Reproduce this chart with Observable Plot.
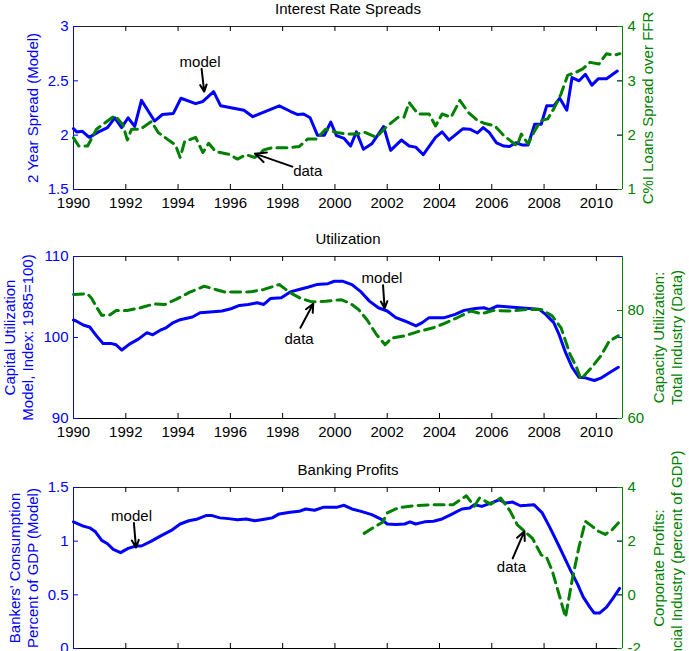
<!DOCTYPE html>
<html><head><meta charset="utf-8">
<script src="https://cdn.jsdelivr.net/npm/d3@7"></script>
<script src="https://cdn.jsdelivr.net/npm/@observablehq/plot@0.6"></script>
<style>
html,body{margin:0;padding:0;background:#fff;overflow:hidden}
#fig{position:relative;width:689px;height:651px;overflow:hidden;background:#fff}
#fig svg{position:absolute;left:0;overflow:visible;background:transparent}
</style></head><body><div id="fig"></div>
<script>
// ---------- shared ----------
const xTicks = [1990,1992,1994,1996,1998,2000,2002,2004,2006,2008,2010];
const xDomain = [1990, 2011];

// ---------- Panel 1: Interest Rate Spreads ----------
const p1Title = "Interest Rate Spreads";
const p1LeftLabel = "2 Year Spread (Model)";
const p1RightLabel = "C%I Loans Spread over FFR";
const p1LeftDomain = [1.5, 3];
const p1LeftTicks = [1.5, 2, 2.5, 3];
const p1RightDomain = [1, 4];
const p1RightTicks = [1, 2, 3, 4];
const p1ModelX = [1990.0,1990.12,1990.34,1990.6,1990.96,1991.3,1991.58,1991.84,1992.09,1992.34,1992.6,1993.1,1993.4,1993.82,1994.11,1994.67,1994.95,1995.36,1995.63,1996.52,1996.86,1997.87,1998.29,1998.58,1998.8,1999.05,1999.33,1999.6,1999.84,2000.06,2000.35,2000.6,2000.82,2001.09,2001.41,2001.86,2002.13,2002.54,2002.84,2003.09,2003.38,2003.85,2004.1,2004.36,2004.9,2005.16,2005.45,2005.67,2005.9,2006.18,2006.46,2006.68,2006.92,2007.15,2007.39,2007.64,2007.89,2008.1,2008.37,2008.6,2008.87,2009.07,2009.34,2009.58,2009.83,2010.08,2010.39,2010.8];
const p1ModelY = [2.06,2.03,2.035,1.98,2.03,2.07,2.16,2.07,2.16,2.08,2.32,2.13,2.19,2.20,2.34,2.29,2.31,2.40,2.27,2.23,2.17,2.27,2.22,2.19,2.195,2.16,2.00,2.00,2.12,1.995,1.97,1.90,2.03,1.87,1.92,2.08,1.86,1.955,1.90,1.89,1.82,1.98,2.03,1.955,2.06,2.055,2.02,2.07,2.025,1.93,1.90,1.895,1.93,1.91,1.91,2.10,2.10,2.27,2.27,2.34,2.23,2.53,2.50,2.56,2.46,2.52,2.52,2.59];
const p1DataX = [1990.0,1990.2,1990.54,1990.88,1991.58,1991.89,1992.06,1992.22,1992.56,1992.98,1993.24,1993.66,1993.9,1994.08,1994.25,1994.67,1994.95,1995.17,1995.43,1995.93,1996.27,1996.6,1996.94,1997.28,1997.6,1998.29,1998.63,1998.96,1999.3,1999.64,2000.06,2000.48,2000.82,2001.15,2001.58,2002.0,2002.42,2002.64,2002.84,2003.18,2003.6,2003.85,2004.1,2004.44,2004.78,2005.1,2005.45,2005.7,2006.12,2006.46,2006.71,2006.97,2007.13,2007.39,2007.64,2007.89,2008.14,2008.4,2008.65,2008.9,2009.23,2009.48,2009.76,2010.1,2010.39,2010.67,2010.9];
const p1DataY = [1.95,1.80,1.80,2.11,2.36,2.19,1.91,2.11,2.11,2.25,2.05,1.90,1.82,1.59,1.88,1.96,1.68,1.85,1.70,1.65,1.56,1.64,1.59,1.73,1.77,1.77,1.79,1.93,1.93,2.11,2.05,2.02,2.02,2.05,1.96,2.17,2.33,2.33,2.60,2.39,2.39,2.17,2.39,2.33,2.64,2.42,2.27,2.22,2.17,1.99,1.90,1.80,2.02,1.84,2.08,2.27,2.30,2.51,2.76,3.10,3.16,3.22,3.34,3.31,3.50,3.47,3.50];
// annotations (left-axis units): [textX, textY, tailX, tailY, tipX, tipY]
const p1ModelNote = [1994.84, 2.67, 1994.9, 2.61, 1995.0, 2.40];
const p1DataNote = [1998.96, 1.67, 1998.37, 1.71, 1996.94, 1.83];

// ---------- Panel 2: Utilization ----------
const p2Title = "Utilization";
const p2LeftLabel = "Capital Utilization\nModel, Index: 1985=100)";
const p2RightLabel = "Capacity Utilization:\nTotal Industry (Data)";
const p2LeftDomain = [90, 110];
const p2LeftTicks = [90, 100, 110];
const p2RightDomain = [60, 90];
const p2RightTicks = [60, 80];
const p2ModelX = [1990.0,1990.1,1990.37,1990.62,1990.88,1991.13,1991.42,1991.63,1991.85,1992.14,1992.48,1992.81,1993.03,1993.32,1993.54,1993.82,1994.08,1994.55,1994.84,1995.34,1995.68,1996.02,1996.35,1996.69,1997.03,1997.28,1997.53,1997.95,1998.29,1998.63,1998.96,1999.3,1999.73,1999.98,2000.31,2000.65,2001.0,2001.32,2001.66,2002.0,2002.33,2002.67,2003.1,2003.34,2003.6,2004.19,2004.6,2004.94,2005.37,2005.7,2005.9,2006.2,2006.7,2007.3,2007.8,2008.06,2008.37,2008.57,2008.82,2009.07,2009.33,2009.58,2009.92,2010.17,2010.42,2010.84];
const p2ModelY = [102.16,102.04,101.55,101.3,100.2,99.27,99.27,99.1,98.45,99.18,99.8,100.6,100.33,100.9,101.2,101.84,102.2,102.53,103.06,103.18,103.27,103.55,103.96,104.08,104.29,104.08,104.8,104.9,105.63,105.92,106.2,106.53,106.65,106.94,106.94,106.53,105.63,104.49,103.67,103.27,102.45,102.04,101.43,101.84,102.45,102.45,102.86,103.35,103.59,103.67,103.43,103.88,103.76,103.6,103.5,102.86,101.84,100.4,98.16,96.33,95.1,95.02,94.69,94.98,95.5,96.33];
const p2DataX = [1990.0,1990.54,1990.7,1990.9,1991.08,1991.38,1991.63,1992.05,1992.56,1993.07,1993.49,1993.9,1994.41,1995.0,1995.43,1995.8,1996.77,1997.28,1997.87,1998.29,1998.71,1999.13,1999.64,2000.23,2000.56,2000.9,2001.24,2001.58,2001.92,2002.17,2002.67,2003.18,2003.76,2004.19,2004.69,2005.2,2005.62,2006.04,2006.7,2007.39,2007.89,2008.31,2008.65,2008.99,2009.24,2009.41,2009.83,2010.17,2010.5,2010.84];
const p2DataY = [82.96,83.08,82.2,80.5,79.1,79.16,80.0,80.0,80.5,81.2,81.1,82.0,83.3,84.5,83.9,83.4,83.45,83.9,84.8,83.3,82.2,81.6,81.7,82.0,81.4,80.2,78.2,75.6,73.65,74.9,75.3,76.1,76.8,77.6,78.7,79.9,79.4,80.0,79.9,80.2,80.2,79.0,76.8,71.9,69.5,67.3,69.5,71.6,74.4,75.3];
const p2ModelNote = [2001.8, 107.35, 2001.84, 106.45, 2001.9, 103.6];
const p2DataNote = [1998.63, 99.8, 1998.68, 101.2, 1999.17, 104.16];

// ---------- Panel 3: Banking Profits ----------
const p3Title = "Banking Profits";
const p3LeftLabel = "Bankers' Consumption\nPercent of GDP (Model)";
const p3RightLabel = "Corporate Profits:\nFinancial Industry (percent of GDP)";
const p3LeftDomain = [0, 1.5];
const p3LeftTicks = [0, 0.5, 1, 1.5];
const p3RightDomain = [-2, 4];
const p3RightTicks = [-2, 0, 2, 4];
const p3ModelX = [1990.0,1990.37,1990.62,1990.84,1991.08,1991.3,1991.52,1991.8,1992.09,1992.39,1992.6,1992.98,1993.32,1993.74,1994.08,1994.41,1994.75,1995.09,1995.27,1995.6,1995.93,1996.27,1996.6,1996.94,1997.36,1997.6,1997.87,1998.29,1998.63,1998.88,1999.22,1999.55,2000.06,2000.35,2000.65,2001.0,2001.41,2001.8,2002.0,2002.33,2002.67,2002.87,2003.09,2003.43,2003.77,2004.1,2004.44,2004.86,2005.16,2005.33,2005.62,2005.96,2006.29,2006.51,2006.8,2007.09,2007.35,2007.61,2007.93,2008.23,2008.57,2008.99,2009.28,2009.5,2009.75,2009.92,2010.12,2010.39,2010.62,2010.89];
const p3ModelY = [1.18,1.14,1.124,1.087,1.007,0.976,0.924,0.893,0.933,0.955,0.955,1.0,1.047,1.1,1.16,1.19,1.207,1.24,1.24,1.217,1.21,1.20,1.207,1.19,1.207,1.217,1.254,1.27,1.278,1.30,1.288,1.315,1.315,1.334,1.30,1.278,1.247,1.20,1.16,1.155,1.16,1.18,1.16,1.18,1.186,1.207,1.247,1.30,1.309,1.34,1.324,1.355,1.386,1.355,1.364,1.33,1.334,1.34,1.263,1.124,0.955,0.739,0.6,0.478,0.385,0.33,0.33,0.385,0.462,0.56];
const p3DataX = [2001.12,2001.41,2001.83,2002.0,2002.42,2003.0,2003.85,2004.52,2005.03,2005.33,2005.53,2005.96,2006.34,2006.71,2006.97,2007.22,2007.56,2007.89,2008.1,2008.31,2008.53,2008.82,2009.07,2009.33,2009.58,2009.83,2010.08,2010.34,2010.62,2010.84];
const p3DataY = [2.29,2.47,2.71,3.05,3.24,3.32,3.36,3.36,3.69,3.30,3.61,3.38,3.61,3.11,2.62,2.40,2.10,1.49,1.39,0.90,0.16,-0.83,0.53,1.76,2.74,2.56,2.37,2.25,2.44,2.68];
const p3ModelNote = [1992.22, 1.232, 1992.31, 1.17, 1992.39, 0.94];
const p3DataNote = [2006.75, 0.755, 2006.8, 0.84, 2007.25, 1.093];

// ---------- drawing ----------
const BLUE = "#0000ff", GREEN = "#008000", BLACK = "#000000";
const FONT = "'Liberation Sans', Arial, Helvetica, sans-serif";
const W = 689, ML = 73, MR = 67;
const fig = document.getElementById("fig");
const zip = (xs, ys) => xs.map((x, i) => ({x, y: ys[i]}));
const fmt = d => String(d);

function layer(cfg, yDomain, marks) {
  const svg = Plot.plot({
    width: W, height: cfg.height,
    marginLeft: ML, marginRight: MR, marginTop: cfg.mt, marginBottom: cfg.mb,
    x: {domain: xDomain, axis: null},
    y: {domain: yDomain, axis: null},
    style: {fontFamily: FONT, fontSize: "15px", background: "transparent", overflow: "visible", color: BLACK},
    marks
  });
  svg.style.top = cfg.top + "px";
  fig.append(svg);
}

function panel(p) {
  const innerH = p.height - p.mt - p.mb;
  const innerW = W - ML - MR;
  // left layer: frame, x axis, left axis, model line
  const leftMarks = [
    Plot.ruleY([p.leftDomain[1]], {stroke: "#222"}),
    Plot.ruleY([p.leftDomain[0]], {stroke: BLACK}),
    Plot.tickX(xTicks, {x: d => d, stroke: BLACK, insetBottom: innerH - 5}),
    Plot.tickX(xTicks, {x: d => d, stroke: BLACK, insetTop: innerH - 5}),
    Plot.tickY(p.leftTicks, {y: d => d, stroke: BLUE, insetRight: innerW - 5}),
    Plot.tickY(p.leftTicks, {y: d => d, stroke: BLUE, insetLeft: innerW - 5}),
    Plot.ruleX([xDomain[0]], {stroke: BLUE}),
    Plot.axisY(p.leftTicks, {anchor: "left", label: null, tickSize: 0, tickPadding: 5, color: BLUE, fontSize: 15, tickFormat: fmt}),
    Plot.line(zip(p.modelX, p.modelY), {x: "x", y: "y", stroke: BLUE, strokeWidth: 3, strokeLinejoin: "round"}),
    Plot.text([p.title], {text: d => d, frameAnchor: "top", dy: -17.5, lineAnchor: "middle", textAnchor: "middle", fill: BLACK, fontSize: 15}),
    Plot.text([p.leftLabel], {text: d => d, frameAnchor: "left", dx: p.leftDx, rotate: -90, textAnchor: "middle", lineAnchor: "middle", lineHeight: 1.2, fill: BLUE, fontSize: 15})
  ];
  if (p.xLabels) leftMarks.push(Plot.axisX(xTicks, {anchor: "bottom", label: null, tickSize: 0, tickPadding: 8, tickFormat: "d", fontSize: 15, color: BLACK}));
  layer(p, p.leftDomain, leftMarks);
  // right layer: right axis, data line
  layer(p, p.rightDomain, [
    Plot.ruleX([xDomain[1]], {stroke: GREEN}),
    Plot.tickY(p.rightTicks, {y: d => d, stroke: GREEN, insetLeft: innerW - 5}),
    Plot.axisY(p.rightTicks, {anchor: "right", label: null, tickSize: 0, tickPadding: 5, color: GREEN, fontSize: 15, tickFormat: fmt}),
    Plot.line(zip(p.dataX, p.dataY), {x: "x", y: "y", stroke: GREEN, strokeWidth: 3, strokeDasharray: "10,6"}),
    Plot.text([p.rightLabel], {text: d => d, frameAnchor: "right", dx: p.rightDx, rotate: -90, textAnchor: "middle", lineAnchor: "middle", lineHeight: 1.2, fill: GREEN, fontSize: 15})
  ]);
  // annotation layer (left units)
  const notes = [{label: "model", v: p.modelNote}, {label: "data", v: p.dataNote}];
  layer(p, p.leftDomain, [
    Plot.arrow(notes, {x1: d => d.v[2], y1: d => d.v[3], x2: d => d.v[4], y2: d => d.v[5], stroke: BLACK, strokeWidth: 2, headLength: 9, headAngle: 50}),
    Plot.text(notes, {x: d => d.v[0], y: d => d.v[1], text: "label", fill: BLACK, fontSize: 15, textAnchor: "middle"})
  ]);
}

panel({top: 0, height: 215, mt: 26, mb: 26, xLabels: true,
  title: p1Title, leftLabel: p1LeftLabel, rightLabel: p1RightLabel, leftDx: -41, rightDx: 25,
  leftDomain: p1LeftDomain, leftTicks: p1LeftTicks, rightDomain: p1RightDomain, rightTicks: p1RightTicks,
  modelX: p1ModelX, modelY: p1ModelY, dataX: p1DataX, dataY: p1DataY, modelNote: p1ModelNote, dataNote: p1DataNote});
panel({top: 225, height: 220, mt: 31, mb: 27, xLabels: true,
  title: p2Title, leftLabel: p2LeftLabel, rightLabel: p2RightLabel, leftDx: -55, rightDx: 44.5,
  leftDomain: p2LeftDomain, leftTicks: p2LeftTicks, rightDomain: p2RightDomain, rightTicks: p2RightTicks,
  modelX: p2ModelX, modelY: p2ModelY, dataX: p2DataX, dataY: p2DataY, modelNote: p2ModelNote, dataNote: p2DataNote});
panel({top: 441, height: 240, mt: 46, mb: 33, xLabels: false,
  title: p3Title, leftLabel: p3LeftLabel, rightLabel: p3RightLabel, leftDx: -50, rightDx: 45,
  leftDomain: p3LeftDomain, leftTicks: p3LeftTicks, rightDomain: p3RightDomain, rightTicks: p3RightTicks,
  modelX: p3ModelX, modelY: p3ModelY, dataX: p3DataX, dataY: p3DataY, modelNote: p3ModelNote, dataNote: p3DataNote});
</script></body></html>
